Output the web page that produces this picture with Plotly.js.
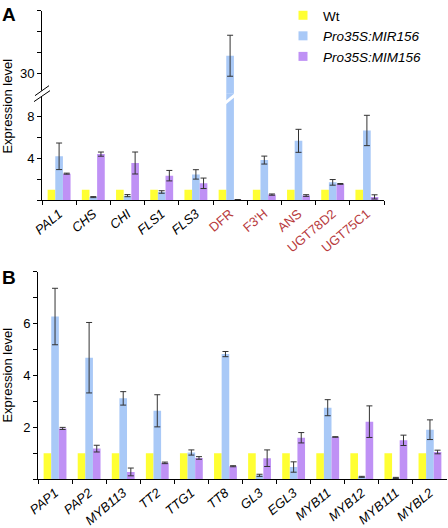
<!DOCTYPE html>
<html><head><meta charset="utf-8">
<script src="https://cdn.plot.ly/plotly-3.0.1.min.js"></script>
<style>html,body{margin:0;padding:0;background:#fff}#chart{width:448px;height:528px}</style>
</head><body><div id="chart"></div>
<script>
// ---------- data ----------
const genesA = ["PAL1","CHS","CHI","FLS1","FLS3","DFR","F3'H","ANS","UGT78D2","UGT75C1"];
const redGenesA = ["DFR","F3'H","ANS","UGT78D2","UGT75C1"];
const wtA = [1,1,1,1,1,1,1,1,1,1];
const mirA = [4.2,0.3,0.44,0.79,2.47,38.6,3.84,5.68,1.71,6.67];
const mirErrA = [1.27,0.05,0.1,0.12,0.45,9.8,0.38,1.1,0.27,1.45];
const mimA = [2.54,4.41,3.56,2.35,1.62,0.05,0.54,0.45,1.56,0.32];
const mimErrA = [0.05,0.2,1.05,0.5,0.5,0.02,0.06,0.08,0.04,0.2];

const genesB = ["PAP1","PAP2","MYB113","TT2","TTG1","TT8","GL3","EGL3","MYB11","MYB12","MYB111","MYBL2"];
const wtB = [1,1,1,1,1,1,1,1,1,1,1,1];
const mirB = [6.28,4.69,3.12,2.64,1.03,4.83,0.15,0.47,2.76,0.09,0.05,1.91];
const mirErrB = [1.09,1.36,0.26,0.62,0.1,0.1,0.04,0.2,0.31,0.02,0.02,0.38];
const mimB = [1.96,1.18,0.28,0.63,0.82,0.5,0.81,1.6,1.63,2.22,1.5,1.05];
const mimErrB = [0.04,0.13,0.15,0.03,0.05,0.02,0.32,0.2,0.01,0.61,0.2,0.07];

const seriesNames = ["Wt","Pro35S:MIR156","Pro35S:MIM156"];
const seriesLegend = ["Wt","<i>Pro35S:MIR156</i>","<i>Pro35S:MIM156</i>"];
const lowerTicksA = [0,2,4,6,8];
const lowerLabelsA = ["","","4","","8"];
const upperTicksA = [30,40,50,60];
const upperLabelsA = ["30","","",""];
const ticksB = [0,1,2,3,4,5,6,7,8];
const labelsB = ["","","2","","4","","6","",""];

// ---------- styles ----------
const colors = ["#ffff33","#a9c9f7","#bf91f5"];
const FONT = "Liberation Sans, Arial, sans-serif";
const W = 448, H = 528;
const px = v => v / W;
const py = v => 1 - v / H;
const errStyle = (arr) => ({type:"data", array:arr, visible:true, color:"#333", thickness:1, width:3});

const traces = [];
// Panel A: lower & upper (broken axis) subplots
["y", "y3"].forEach((ya) => {
  traces.push({type:"bar", x:genesA, y:wtA, xaxis:"x", yaxis:ya, name:seriesNames[0], marker:{color:colors[0]}, showlegend:false, hoverinfo:"skip"});
  traces.push({type:"bar", x:genesA, y:mirA, xaxis:"x", yaxis:ya, name:seriesNames[1], marker:{color:colors[1]}, error_y:errStyle(mirErrA), showlegend:false, hoverinfo:"skip"});
  traces.push({type:"bar", x:genesA, y:mimA, xaxis:"x", yaxis:ya, name:seriesNames[2], marker:{color:colors[2]}, error_y:errStyle(mimErrA), showlegend:false, hoverinfo:"skip"});
});
// Panel B
traces.push({type:"bar", x:genesB, y:wtB, xaxis:"x2", yaxis:"y2", name:seriesNames[0], marker:{color:colors[0]}, showlegend:false});
traces.push({type:"bar", x:genesB, y:mirB, xaxis:"x2", yaxis:"y2", name:seriesNames[1], marker:{color:colors[1]}, error_y:errStyle(mirErrB), showlegend:false});
traces.push({type:"bar", x:genesB, y:mimB, xaxis:"x2", yaxis:"y2", name:seriesNames[2], marker:{color:colors[2]}, error_y:errStyle(mimErrB), showlegend:false});
// legend entries
seriesLegend.forEach((n, i) => {
  traces.push({type:"scatter", mode:"markers", x:[null], y:[null], xaxis:"x", yaxis:"y3", name:n,
    marker:{symbol:"square", size:9, color:colors[i]}, showlegend:true});
});

const tickTextA = genesA.map(g => redGenesA.includes(g)
  ? `<span style="color:#b83a3d">${g}</span>` : `<i>${g}</i>`);
const tickTextB = genesB.map(g => `<i>${g}</i>`);

const axisCommon = {showline:true, linecolor:"#000", linewidth:1, ticks:"outside", ticklen:4, tickwidth:1,
  tickcolor:"#000", showgrid:false, zeroline:false, fixedrange:true, tickfont:{size:13, family:FONT, color:"#000"}};

const layout = {
  width:W, height:H, margin:{l:0,r:0,t:0,b:0}, paper_bgcolor:"#fff", plot_bgcolor:"rgba(0,0,0,0)",
  font:{family:FONT, color:"#000", size:13},
  barmode:"group", bargap:0.33, bargroupgap:0,
  showlegend:true,
  legend:{x:px(283), y:py(-2), xanchor:"left", yanchor:"top", bgcolor:"rgba(0,0,0,0)",
    font:{size:13.5, family:FONT}, tracegroupgap:0, itemclick:false},
  xaxis: Object.assign({}, axisCommon, {domain:[px(42), px(384)], anchor:"y", type:"category",
    tickson:"boundaries", tickmode:"array", tickvals:genesA, ticktext:tickTextA, tickangle:-40}),
  yaxis: Object.assign({}, axisCommon, {domain:[py(199), py(92)], anchor:"x", range:[0, 10.19],
    tickmode:"array", tickvals:lowerTicksA, ticktext:lowerLabelsA}),
  yaxis3: Object.assign({}, axisCommon, {domain:[py(92), py(9)], anchor:"x", range:[20.48, 60],
    tickmode:"array", tickvals:upperTicksA, ticktext:upperLabelsA}),
  xaxis2: Object.assign({}, axisCommon, {domain:[px(38), px(447)], anchor:"y2", type:"category",
    tickson:"boundaries", tickmode:"array", tickvals:genesB, ticktext:tickTextB, tickangle:-40}),
  yaxis2: Object.assign({}, axisCommon, {domain:[py(479), py(271)], anchor:"x2", range:[0, 8],
    tickmode:"array", tickvals:ticksB, ticktext:labelsB}),
  annotations:[
    {text:"<b>A</b>", xref:"paper", yref:"paper", x:px(0), y:py(0), xanchor:"left", yanchor:"top", showarrow:false, font:{size:19, family:FONT}},
    {text:"<b>B</b>", xref:"paper", yref:"paper", x:px(0), y:py(264), xanchor:"left", yanchor:"top", showarrow:false, font:{size:19, family:FONT}},
    {text:"Expression level", xref:"paper", yref:"paper", x:px(8), y:py(105), xanchor:"center", yanchor:"middle", textangle:-90, showarrow:false, font:{size:13, family:FONT}},
    {text:"Expression level", xref:"paper", yref:"paper", x:px(8), y:py(375), xanchor:"center", yanchor:"middle", textangle:-90, showarrow:false, font:{size:13, family:FONT}}
  ],
  shapes:[
    {type:"line", xref:"paper", yref:"paper", x0:px(42), x1:px(42), y0:py(89), y1:py(95), line:{color:"#fff", width:3}, layer:"above"},
    {type:"line", xref:"paper", yref:"paper", x0:px(35), x1:px(49), y0:py(94), y1:py(84), line:{color:"#000", width:1}, layer:"above"},
    {type:"line", xref:"paper", yref:"paper", x0:px(34), x1:px(50), y0:py(100), y1:py(89), line:{color:"#000", width:1}, layer:"above"},
    {type:"line", xref:"paper", yref:"paper", x0:px(222), x1:px(239), y0:py(104), y1:py(90), line:{color:"#fff", width:3}, layer:"above"}
  ]
};

Plotly.newPlot("chart", traces, layout, {staticPlot:true, displayModeBar:false});
</script>
</body></html>
